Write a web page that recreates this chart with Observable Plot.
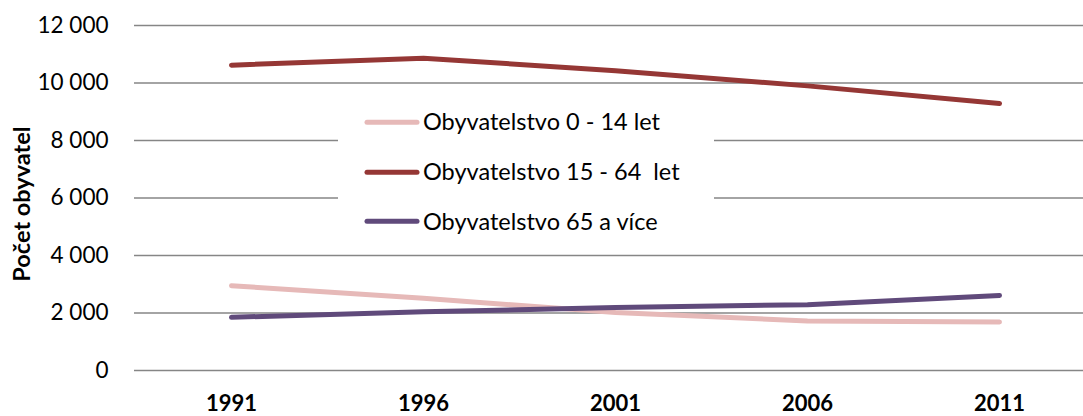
<!DOCTYPE html>
<html><head><meta charset="utf-8">
<script src="https://cdn.jsdelivr.net/npm/d3@7"></script>
<script src="https://cdn.jsdelivr.net/npm/@observablehq/plot@0.6"></script>
<style>
body{margin:0;background:#fff;}
#wrap{position:relative;width:1083px;height:416px;overflow:hidden;font-family:Lato, sans-serif;}
#legend{position:absolute;left:338px;top:100px;width:376px;height:142px;background:#fff;}
.row{position:absolute;left:26px;display:flex;align-items:center;transform:translateY(-50%);}
.row span{font-size:23.5px;white-space:pre;margin-left:3px;color:#000;line-height:1;}
.row svg{display:block;}
</style>
</head><body>
<div id="wrap"></div>
<script>
const years = ["1991", "1996", "2001", "2006", "2011"];
const age0_14 = [2950, 2510, 2020, 1720, 1690];
const age15_64 = [10620, 10860, 10430, 9900, 9290];
const age65plus = [1850, 2040, 2190, 2290, 2610];
const seriesNames = ["Obyvatelstvo 0 - 14 let", "Obyvatelstvo 15 - 64  let", "Obyvatelstvo 65 a více"];
const seriesColors = ["#E6B9B8", "#953735", "#604A7B"];
const yTicks = [0, 2000, 4000, 6000, 8000, 10000, 12000];
const yLabel = "Počet obyvatel";

const seriesValues = [age0_14, age15_64, age65plus];
const series = seriesNames.map((name, i) => ({
  name, color: seriesColors[i],
  rows: years.map((year, j) => ({year, value: seriesValues[i][j]}))
}));

const fmt = d => d3.format(",")(d).replace(/,/g, " ");

const chart = Plot.plot({
  width: 1083, height: 416,
  marginLeft: 134, marginRight: 0, marginTop: 25, marginBottom: 46,
  style: {fontFamily: "Lato, sans-serif", background: "white", color: "black"},
  x: {type: "point", domain: years, range: [133, 1097], padding: 0.5},
  y: {domain: [0, 12000]},
  marks: [
    Plot.ruleY(yTicks, {stroke: "#868686", strokeWidth: 1.5}),
    Plot.axisY({ticks: yTicks, tickSize: 0, tickPadding: 26, tickFormat: fmt, fontSize: 22.5, label: null, line: true, stroke: "#868686", strokeWidth: 1.5}),
    Plot.axisX({tickSize: 0, tickPadding: 25, fontSize: 22, fontWeight: "bold", label: null}),
    Plot.text([yLabel], {text: d => d, frameAnchor: "left", textAnchor: "middle", lineAnchor: "middle", rotate: -90, dx: -112, dy: 6, fontWeight: "bold", fontSize: 23.5}),
    ...series.map(s => Plot.line(s.rows, {x: "year", y: "value", stroke: s.color, strokeWidth: 5, strokeLinecap: "round", strokeLinejoin: "round"}))
  ]
});

const wrap = document.getElementById("wrap");
wrap.appendChild(chart);

const legend = document.createElement("div");
legend.id = "legend";
const rowTops = [22, 72, 121.5];
series.forEach((s, i) => {
  const row = document.createElement("div");
  row.className = "row";
  row.style.top = rowTops[i] + "px";
  row.innerHTML = `<svg width="56" height="8"><line x1="3" y1="4" x2="53" y2="4" stroke="${s.color}" stroke-width="5" stroke-linecap="round"/></svg><span></span>`;
  row.querySelector("span").textContent = s.name;
  legend.appendChild(row);
});
wrap.appendChild(legend);
</script>
</body></html>
